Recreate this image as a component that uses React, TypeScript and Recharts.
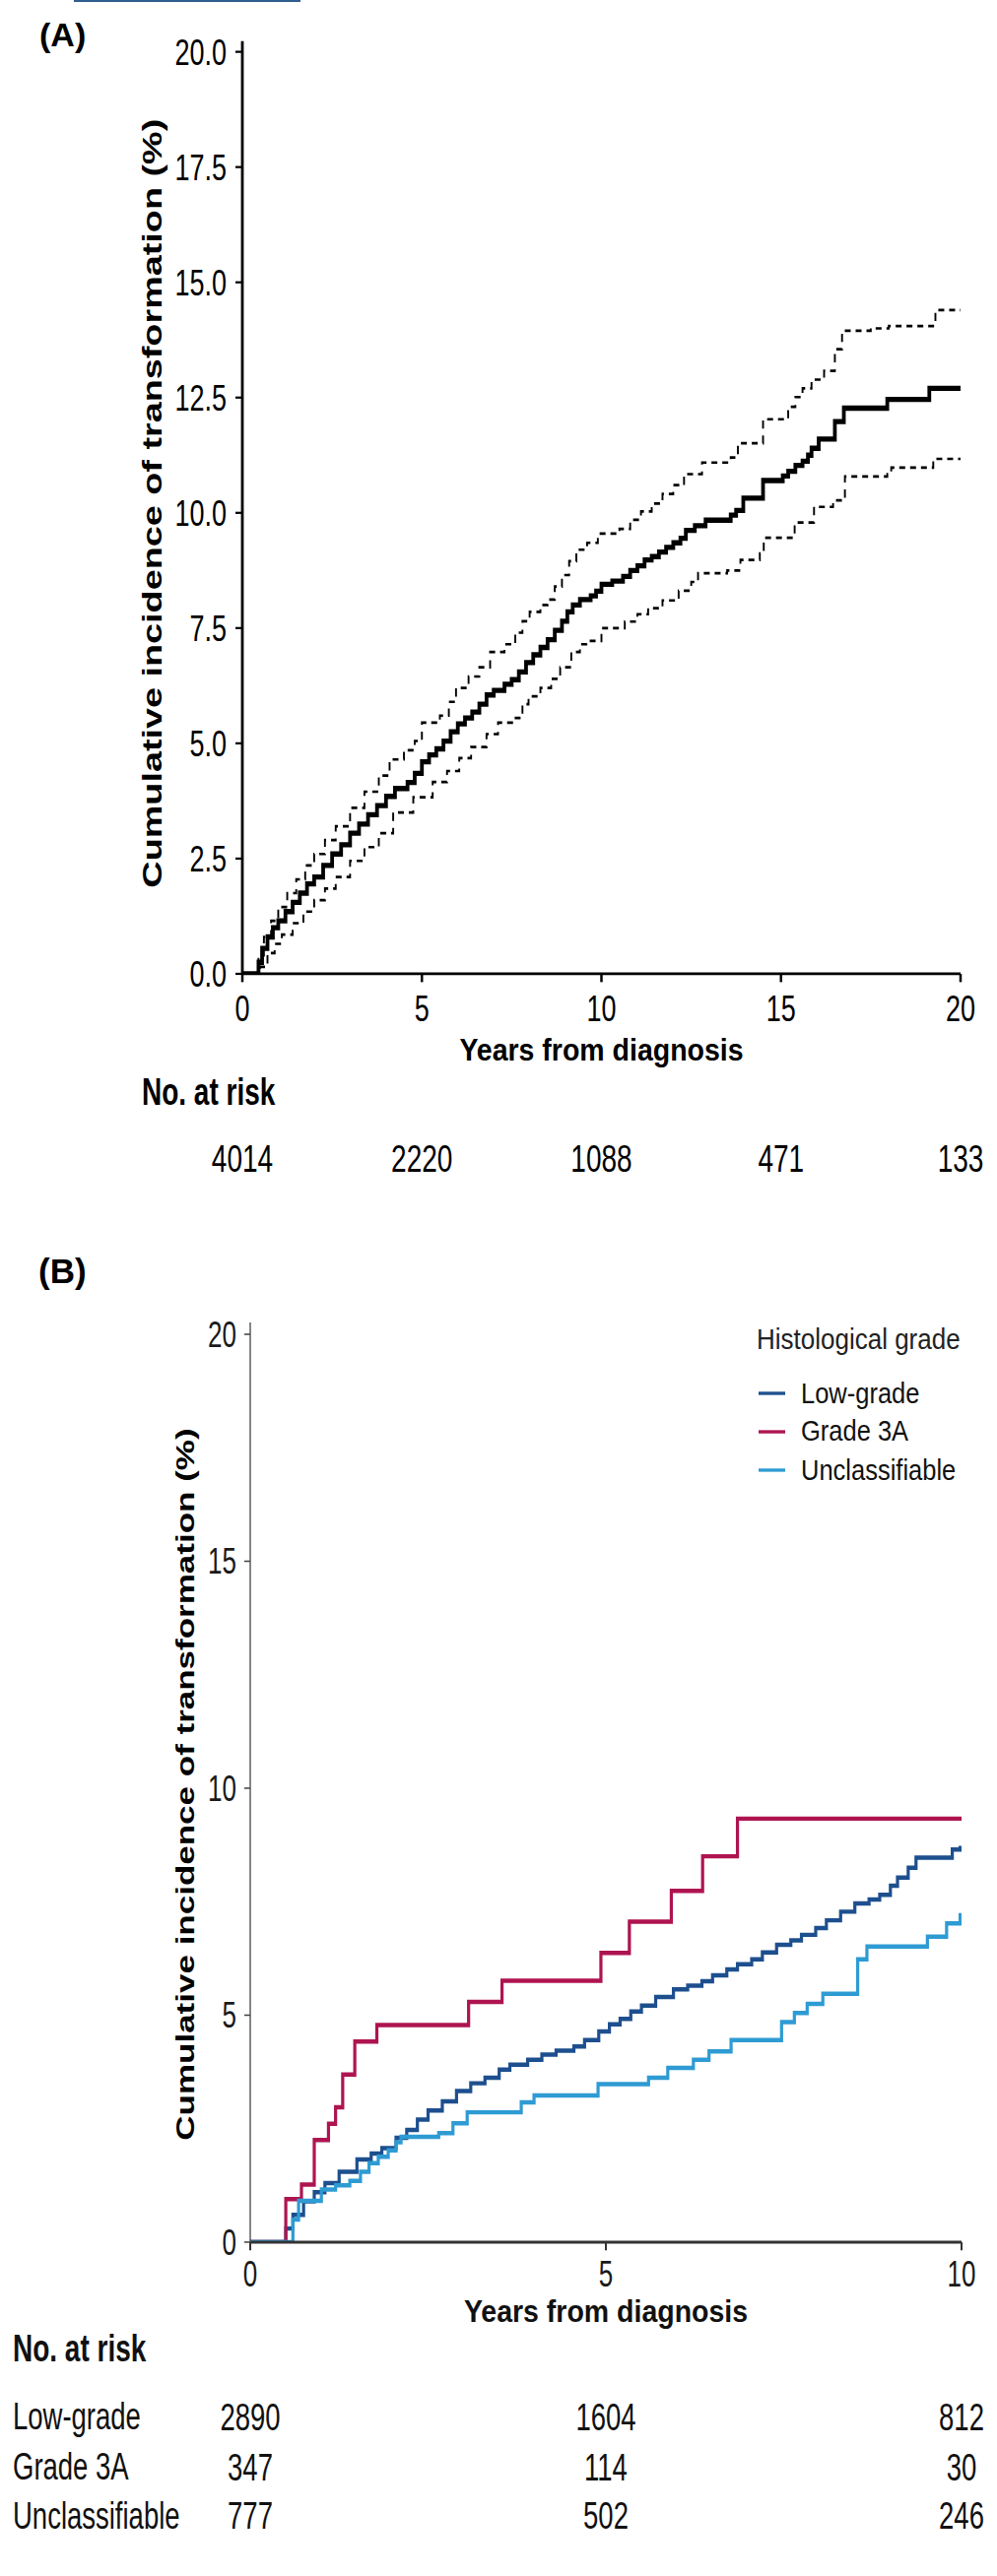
import React from 'react';
import { LineChart, Line, XAxis, YAxis, Legend } from 'recharts';

const FONT = '"Liberation Sans", Arial, Helvetica, sans-serif';
const STRETCH = 1.4;

// ---------- Panel A data: [years, cumulative incidence %] ----------
const A_MAIN: [number, number][] = [
  [0, 0], [0.3, 0], [0.45, 0.25], [0.55, 0.55], [0.7, 0.8], [0.85, 1.0], [1.0, 1.15], [1.2, 1.35],
  [1.4, 1.55], [1.6, 1.75], [1.8, 1.95], [2.0, 2.1], [2.25, 2.35], [2.5, 2.6], [2.75, 2.8], [3.0, 3.05],
  [3.25, 3.25], [3.5, 3.45], [3.75, 3.65], [4.0, 3.85], [4.25, 4.02], [4.6, 4.15], [4.8, 4.35], [5.0, 4.6],
  [5.2, 4.75], [5.4, 4.88], [5.6, 5.05], [5.8, 5.25], [6.0, 5.42], [6.2, 5.55], [6.4, 5.68], [6.6, 5.85],
  [6.8, 6.05], [7.0, 6.15], [7.3, 6.28], [7.5, 6.38], [7.7, 6.55], [7.9, 6.75], [8.1, 6.92], [8.3, 7.08],
  [8.5, 7.25], [8.7, 7.45], [8.9, 7.65], [9.05, 7.85], [9.2, 8.0], [9.4, 8.12], [9.7, 8.2], [9.85, 8.3],
  [10.0, 8.45], [10.3, 8.52], [10.6, 8.62], [10.8, 8.75], [11.0, 8.85], [11.2, 8.98], [11.4, 9.05],
  [11.6, 9.15], [11.8, 9.25], [12.0, 9.35], [12.2, 9.45], [12.35, 9.62], [12.6, 9.72], [12.9, 9.84],
  [13.6, 9.95], [13.75, 10.05], [13.95, 10.32], [14.5, 10.7], [15.05, 10.8], [15.2, 10.9], [15.4, 11.03],
  [15.6, 11.12], [15.75, 11.25], [15.85, 11.4], [16.05, 11.6], [16.5, 11.98], [16.75, 12.27],
  [17.96, 12.46], [19.13, 12.7], [20, 12.7],
];
const A_UPPER: [number, number][] = [
  [0, 0], [0.3, 0], [0.45, 0.4], [0.6, 0.8], [0.8, 1.15], [1.0, 1.45], [1.25, 1.75], [1.5, 2.05],
  [1.75, 2.35], [2.0, 2.6], [2.3, 2.9], [2.6, 3.2], [3.0, 3.6], [3.4, 3.95], [3.8, 4.3], [4.1, 4.65],
  [4.5, 4.85], [4.8, 5.05], [5.0, 5.45], [5.5, 5.6], [5.75, 5.9], [5.95, 6.2], [6.3, 6.45], [6.6, 6.65],
  [6.9, 6.98], [7.3, 7.15], [7.6, 7.4], [7.8, 7.65], [8.0, 7.85], [8.3, 8.0], [8.5, 8.12], [8.7, 8.4],
  [8.9, 8.65], [9.1, 8.95], [9.3, 9.2], [9.6, 9.35], [9.9, 9.55], [10.5, 9.65], [10.8, 9.85], [11.1, 10.03],
  [11.4, 10.2], [11.7, 10.41], [12.0, 10.6], [12.3, 10.84], [12.8, 11.09], [13.6, 11.2], [13.8, 11.51],
  [14.5, 12.03], [15.2, 12.3], [15.4, 12.51], [15.6, 12.7], [15.85, 12.89], [16.2, 13.08], [16.5, 13.55],
  [16.7, 13.95], [17.5, 14.0], [18.0, 14.05], [19.3, 14.4], [20, 14.4],
];
const A_LOWER: [number, number][] = [
  [0, 0], [0.3, 0], [0.5, 0.15], [0.7, 0.45], [0.9, 0.65], [1.1, 0.85], [1.4, 1.1], [1.7, 1.35], [2.0, 1.6],
  [2.3, 1.85], [2.6, 2.1], [3.0, 2.45], [3.4, 2.75], [3.8, 3.05], [4.2, 3.5], [4.76, 3.83], [5.3, 4.16],
  [5.7, 4.4], [6.04, 4.68], [6.37, 4.92], [6.8, 5.2], [7.12, 5.45], [7.55, 5.55], [7.8, 5.85], [7.97, 6.02],
  [8.3, 6.2], [8.6, 6.4], [8.85, 6.65], [9.16, 6.98], [9.4, 7.15], [9.58, 7.22], [10.0, 7.5], [10.65, 7.64],
  [11.0, 7.8], [11.3, 7.93], [11.7, 8.1], [12.15, 8.31], [12.5, 8.5], [12.69, 8.69], [13.5, 8.75],
  [13.87, 8.98], [14.41, 9.12], [14.52, 9.46], [15.38, 9.79], [15.92, 10.13], [16.45, 10.27],
  [16.78, 10.79], [17.96, 10.84], [18.07, 10.98], [19.24, 11.17], [20, 11.17],
];
const A_X_TICKS = [0, 5, 10, 15, 20];
const A_Y_TICKS = [0, 2.5, 5, 7.5, 10, 12.5, 15, 17.5, 20];
const A_RISK = [4014, 2220, 1088, 471, 133];

// ---------- Panel B data ----------
const B_LOW: [number, number][] = [
  [0, 0], [0.45, 0], [0.5, 0.3], [0.6, 0.6], [0.75, 0.9], [0.9, 1.1], [1.05, 1.3], [1.25, 1.55], [1.5, 1.82],
  [1.7, 1.95], [1.85, 2.07], [2.05, 2.3], [2.2, 2.47], [2.35, 2.7], [2.5, 2.9], [2.7, 3.1], [2.9, 3.33],
  [3.1, 3.5], [3.3, 3.62], [3.5, 3.8], [3.65, 3.91], [3.9, 4.02], [4.1, 4.13], [4.3, 4.22], [4.55, 4.31],
  [4.7, 4.45], [4.9, 4.64], [5.05, 4.8], [5.2, 4.92], [5.35, 5.08], [5.5, 5.21], [5.7, 5.4], [5.95, 5.57],
  [6.15, 5.65], [6.35, 5.75], [6.5, 5.88], [6.7, 6.01], [6.85, 6.12], [7.05, 6.23], [7.2, 6.38], [7.4, 6.55],
  [7.6, 6.65], [7.75, 6.77], [7.95, 6.92], [8.1, 7.09], [8.3, 7.28], [8.5, 7.46], [8.7, 7.55], [8.85, 7.65],
  [9.0, 7.85], [9.1, 8.03], [9.25, 8.25], [9.36, 8.47], [9.87, 8.65], [9.98, 8.68], [10, 8.68],
];
const B_G3A: [number, number][] = [
  [0, 0], [0.42, 0], [0.5, 0.95], [0.72, 1.27], [0.9, 2.25], [1.1, 2.61], [1.2, 2.97], [1.3, 3.69],
  [1.47, 4.42], [1.78, 4.78], [3.07, 5.29], [3.54, 5.76], [4.93, 6.37], [5.33, 7.06], [5.92, 7.74],
  [6.36, 8.5], [6.85, 9.33], [10, 9.33],
];
const B_UNC: [number, number][] = [
  [0, 0], [0.5, 0], [0.6, 0.5], [0.68, 0.91], [1.0, 1.16], [1.2, 1.25], [1.4, 1.35], [1.55, 1.55],
  [1.67, 1.74], [1.8, 1.88], [1.94, 2.02], [2.05, 2.2], [2.12, 2.32], [2.65, 2.4], [2.85, 2.62],
  [3.05, 2.86], [3.81, 3.08], [3.99, 3.23], [4.89, 3.48], [5.6, 3.62], [5.87, 3.84], [6.23, 4.02],
  [6.45, 4.2], [6.76, 4.45], [7.47, 4.85], [7.65, 5.05], [7.83, 5.25], [8.05, 5.47], [8.54, 6.23],
  [8.67, 6.51], [9.52, 6.73], [9.79, 7.02], [9.98, 7.2], [10, 7.2],
];
const B_X_TICKS = [0, 5, 10];
const B_Y_TICKS = [0, 5, 10, 15, 20];
const B_GROUPS = ['Low-grade', 'Grade 3A', 'Unclassifiable'];
const B_COLORS = ['#1D4F8E', '#AE1450', '#2E9BD3'];
const B_RISK_LOW = [2890, 1604, 812];
const B_RISK_3A = [347, 114, 30];
const B_RISK_UNC = [777, 502, 246];
const B_RISK = [B_RISK_LOW, B_RISK_3A, B_RISK_UNC];

const toRows = (arr: [number, number][]) => arr.map(([t, v]) => ({ t, v }));
const aMain = toRows(A_MAIN);
const aUpper = toRows(A_UPPER);
const aLower = toRows(A_LOWER);
const bSeries = [toRows(B_LOW), toRows(B_G3A), toRows(B_UNC)];

const Y_TITLE = 'Cumulative incidence of transformation (%)';

// ---------- Panel A custom pieces ----------
const ATick = (props: any) => {
  const { x, y, payload } = props;
  const i = A_X_TICKS.indexOf(payload.value);
  return (
    <g>
      <text x={x} y={y + 26.1} textAnchor="middle" fontSize={27} fill="#000">{payload.value}</text>
      <text x={x} y={y + 135.6} textAnchor="middle" fontSize={28} fill="#000">{A_RISK[i]}</text>
    </g>
  );
};
const AXLabel = (props: any) => {
  const vb = props.viewBox;
  const cx = vb.x + vb.width / 2;
  return (
    <g>
      <text transform={`translate(${cx},${vb.y + 62.7}) scale(1,0.77)`} textAnchor="middle" fontSize={28.5} fontWeight="bold" fill="#000">
        Years from diagnosis
      </text>
      <text x={144} y={vb.y + 94.8} fontSize={28} fontWeight="bold" fill="#000">No. at risk</text>
    </g>
  );
};
const AYLabel = (props: any) => {
  const vb = props.viewBox;
  const cx = 155;
  const cy = vb.y + vb.height / 2 - 3;
  return (
    <text x={cx} y={cy} transform={`rotate(-90, ${cx}, ${cy})`} textAnchor="middle" dominantBaseline="central"
      fontSize={27} fontWeight="bold" fill="#000">{Y_TITLE}</text>
  );
};

// ---------- Panel B custom pieces ----------
const B_RISK_DY = [128.6, 164.6, 200.1];
const B_ROW_DY = [135.6, 172.4, 208.1];
const BTick = (props: any) => {
  const { x, y, payload } = props;
  const i = B_X_TICKS.indexOf(payload.value);
  return (
    <g>
      <text x={x} y={y + 24} textAnchor="middle" fontSize={26} fill="#1a1a1a">{payload.value}</text>
      {B_RISK.map((row, r) => (
        <text key={r} x={x} y={y + B_RISK_DY[r]} textAnchor="middle" fontSize={27.5} fill="#111">{row[i]}</text>
      ))}
    </g>
  );
};
const BXLabel = (props: any) => {
  const vb = props.viewBox;
  const cx = vb.x + vb.width / 2;
  return (
    <g>
      <text transform={`translate(${cx},${vb.y + 58.2}) scale(1,0.77)`} textAnchor="middle" fontSize={28.5} fontWeight="bold" fill="#111">
        Years from diagnosis
      </text>
      <text x={13} y={vb.y + 86.7} fontSize={28} fontWeight="bold" fill="#111">No. at risk</text>
      {B_GROUPS.map((g, r) => (
        <text key={g} x={13} y={vb.y + B_ROW_DY[r]} fontSize={27.5} fill="#111">{g}</text>
      ))}
    </g>
  );
};
const BYLabel = (props: any) => {
  const vb = props.viewBox;
  const cx = 188;
  const cy = vb.y + vb.height / 2 + 1.5;
  return (
    <text x={cx} y={cy} transform={`rotate(-90, ${cx}, ${cy})`} textAnchor="middle" dominantBaseline="central"
      fontSize={25} fontWeight="bold" fill="#000">{Y_TITLE}</text>
  );
};
const BLegend = (props: any) => {
  const payload: any[] = props.payload || [];
  // keep the legend in the grade order of the reference
  const items = B_GROUPS.map((g, i) => {
    const hit = payload.find((p) => p.value === g);
    return { value: g, color: hit ? hit.color : B_COLORS[i] };
  });
  const rows = [
    { base: 67.9, sw: 60.7 },
    { base: 95, sw: 88.6 },
    { base: 123.6, sw: 116.4 },
  ];
  return (
    <svg width={250} height={135} style={{ fontFamily: FONT, overflow: 'visible', display: 'block' }}>
      <text transform="translate(8,28.6) scale(1,0.82)" fontSize={26} fill="#222">Histological grade</text>
      {items.map((it: any, i: number) => (
        <g key={it.value}>
          <line x1={10} x2={37} y1={rows[i].sw} y2={rows[i].sw} stroke={it.color} strokeWidth={2.4} />
          <text transform={`translate(53,${rows[i].base}) scale(1,0.82)`} fontSize={25.5} fill="#111">{it.value}</text>
        </g>
      ))}
    </svg>
  );
};

export default function App() {
  return (
    <div style={{ position: 'absolute', left: 0, top: 0, width: 1012, height: 2616, background: '#fff', fontFamily: FONT }}>
      <div
        style={{
          position: 'absolute', left: 0, top: 0, width: 1012, height: 2616 / STRETCH,
          transform: `scaleY(${STRETCH})`, transformOrigin: '0 0', fontFamily: FONT,
        }}
      >
        {/* Panel A */}
        <div style={{ position: 'absolute', left: 0, top: 0 }}>
          <LineChart width={1012} height={880} margin={{ top: 29.9, right: 37, bottom: 0, left: 0 }}>
            <XAxis
              dataKey="t" type="number" domain={[0, 20]} ticks={A_X_TICKS} interval={0} allowDataOverflow
              height={173.6} tickSize={6} tickMargin={2}
              axisLine={{ stroke: '#000', strokeWidth: 2 }} tickLine={{ stroke: '#000', strokeWidth: 2.5 }}
              tick={(p: any) => <ATick {...p} />} label={AXLabel}
            />
            <YAxis
              type="number" domain={[0, 20.23]} ticks={A_Y_TICKS} interval={0} allowDataOverflow width={246}
              tickSize={7} tickMargin={9} tickFormatter={(v: number) => v.toFixed(1)}
              tick={{ fontSize: 27, fill: '#000' }}
              axisLine={{ stroke: '#000', strokeWidth: 2.8 }} tickLine={{ stroke: '#000', strokeWidth: 1.6 }}
              label={AYLabel}
            />
            <Line data={aUpper} dataKey="v" type="stepAfter" stroke="#000" strokeWidth={1.9} strokeDasharray="6 5" dot={false} activeDot={false} isAnimationActive={false} />
            <Line data={aLower} dataKey="v" type="stepAfter" stroke="#000" strokeWidth={1.9} strokeDasharray="6 5" dot={false} activeDot={false} isAnimationActive={false} />
            <Line data={aMain} dataKey="v" type="stepAfter" stroke="#000" strokeWidth={3.8} dot={false} activeDot={false} isAnimationActive={false} />
          </LineChart>
        </div>

        {/* Panel B */}
        <div style={{ position: 'absolute', left: 0, top: 900 }}>
          <LineChart width={1012} height={960} margin={{ top: 59.3, right: 36, bottom: 0, left: 0 }}>
            <XAxis
              dataKey="t" type="number" domain={[0, 10]} ticks={B_X_TICKS} interval={0} allowDataOverflow
              height={233.6} tickSize={6} tickMargin={2}
              axisLine={{ stroke: '#333', strokeWidth: 2.1 }} tickLine={{ stroke: '#333', strokeWidth: 2 }}
              tick={(p: any) => <BTick {...p} />} label={BXLabel}
            />
            <YAxis
              type="number" domain={[0, 20.26]} ticks={B_Y_TICKS} interval={0} allowDataOverflow width={254}
              tickSize={6} tickMargin={8}
              tick={{ fontSize: 26, fill: '#1a1a1a' }}
              axisLine={{ stroke: '#444', strokeWidth: 1.3 }} tickLine={{ stroke: '#444', strokeWidth: 1.1 }}
              label={BYLabel}
            />
            {bSeries.map((d, i) => (
              <Line key={B_GROUPS[i]} name={B_GROUPS[i]} data={d} dataKey="v" type="stepAfter" stroke={B_COLORS[i]}
                strokeWidth={3.2} dot={false} activeDot={false} isAnimationActive={false} />
            ))}
            <Legend layout="vertical" align="center" verticalAlign="middle" content={BLegend}
              wrapperStyle={{ position: 'absolute', left: 760, top: 50, width: 250, height: 135 }} />
          </LineChart>
        </div>
      </div>

      {/* Unstretched overlay: panel letters and top link rule */}
      <svg width={1012} height={2616} style={{ position: 'absolute', left: 0, top: 0, pointerEvents: 'none', fontFamily: FONT }}>
        <rect x={75} y={0} width={230} height={2} fill="#2F5E90" />
        <text x={40} y={47} fontSize={34} fontWeight="bold" fill="#000">(A)</text>
        <text x={39} y={1303} fontSize={35} fontWeight="bold" fill="#000">(B)</text>
      </svg>
    </div>
  );
}
